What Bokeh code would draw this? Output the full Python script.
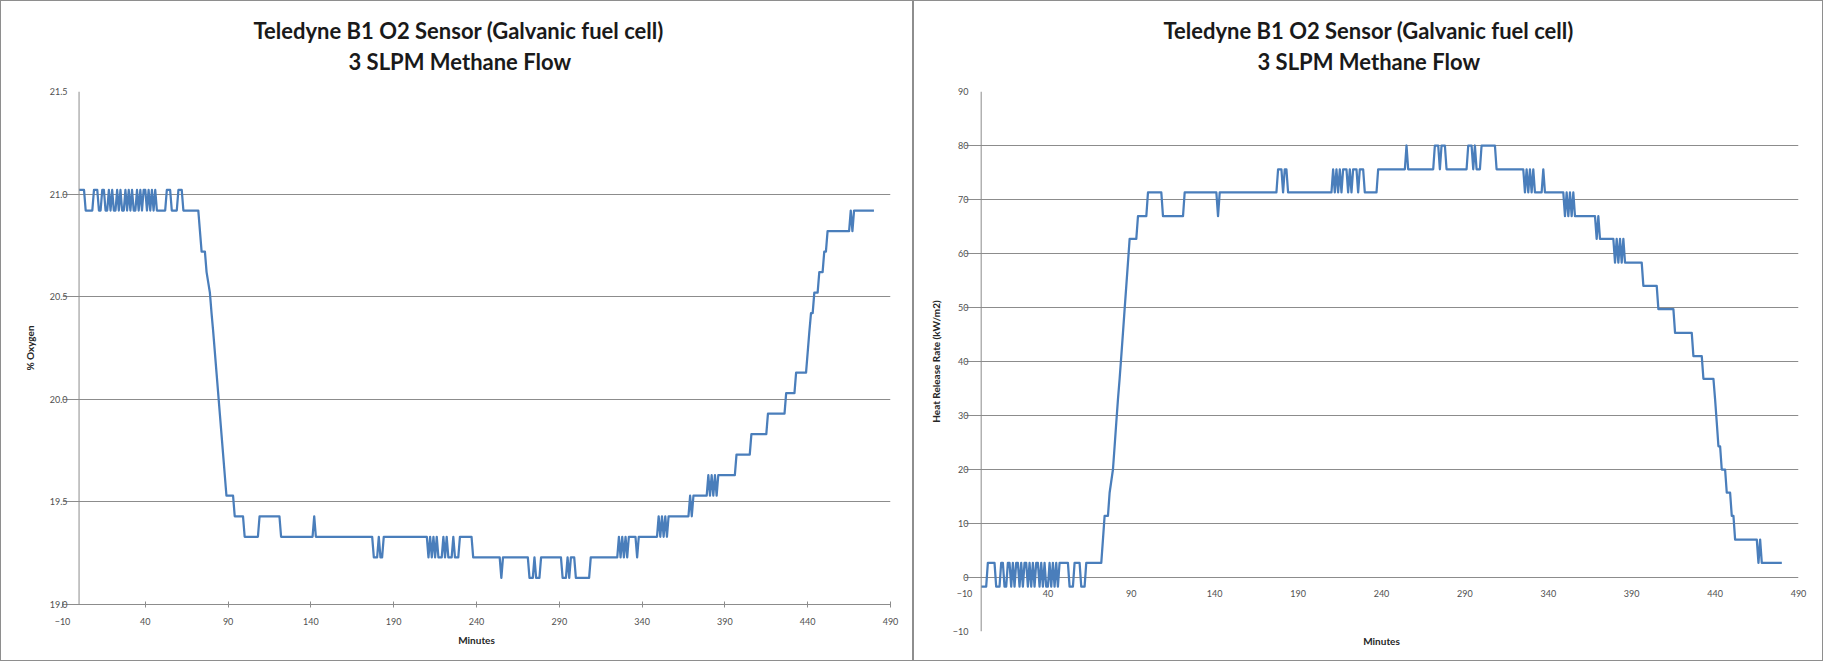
from bokeh.plotting import figure
from bokeh.layouts import row, column
from bokeh.models import Range1d, FixedTicker, Span, Title, LinearAxis, NumeralTickFormatter
from bokeh.embed import file_html
from bokeh.resources import INLINE

# ---------------- data ----------------
minutes = [
    0, 3, 4, 8, 9, 11, 12, 13, 14, 15, 16, 17,
    18, 19, 20, 21, 22, 23, 24, 25, 26, 27, 28, 29, 30, 31, 32, 33,
    34, 35, 36, 37, 38, 39, 40, 41, 42, 43, 44, 45, 46, 47, 48,
    52, 53, 55, 56, 59, 60, 62, 63, 72,
    73, 74, 76, 77, 79, 80, 81, 82, 83, 84, 85, 86, 87, 88, 89, 93, 94, 99, 100,
    108, 109, 121, 122, 141, 142, 143, 177, 178, 180, 181, 182, 183, 184,
    210, 211, 212, 213, 214, 215, 216, 217, 219, 220, 221, 222, 223, 225, 226, 227, 229, 230, 237, 238,
    254, 255, 256, 271, 272, 274, 275, 276, 278, 279, 291, 292, 294, 295, 296, 297, 299, 300, 308, 309,
    325, 326, 327, 328, 329, 330, 331, 332, 336, 337, 338, 349, 350, 351, 352, 353, 354, 355, 356,
    368, 369, 370, 371, 379, 380, 381, 382, 383, 384, 385, 386, 396,
    397, 405, 406, 415, 416, 426, 427, 432, 433, 439, 440, 441, 442, 443, 444, 446, 447, 449, 450, 451, 452, 465, 466, 467, 468, 480,
]

oxygen_pct = [
    21.02, 21.02, 20.92, 20.92, 21.02, 21.02, 20.92, 20.92, 21.02, 21.02, 20.92, 20.92,
    21.02, 20.92, 21.02, 20.92, 20.92, 21.02, 20.92, 21.02, 20.92, 20.92, 21.02, 20.92, 21.02, 20.92, 21.02, 20.92,
    20.92, 21.02, 20.92, 21.02, 20.92, 21.02, 21.02, 20.92, 21.02, 20.92, 21.02, 20.92, 21.02, 20.92, 20.92,
    20.92, 21.02, 21.02, 20.92, 20.92, 21.02, 21.02, 20.92, 20.92,
    20.82, 20.72, 20.72, 20.62, 20.52, 20.42, 20.33, 20.23, 20.13, 20.03, 19.93, 19.83, 19.73, 19.63, 19.53, 19.53, 19.43, 19.43, 19.33,
    19.33, 19.43, 19.43, 19.33, 19.33, 19.43, 19.33, 19.33, 19.23, 19.23, 19.33, 19.23, 19.23, 19.33,
    19.33, 19.23, 19.33, 19.23, 19.33, 19.23, 19.33, 19.23, 19.23, 19.33, 19.23, 19.33, 19.23, 19.23, 19.33, 19.23, 19.23, 19.33, 19.33, 19.23,
    19.23, 19.13, 19.23, 19.23, 19.13, 19.13, 19.23, 19.13, 19.13, 19.23, 19.23, 19.13, 19.13, 19.23, 19.13, 19.23, 19.23, 19.13, 19.13, 19.23,
    19.23, 19.33, 19.23, 19.33, 19.23, 19.33, 19.23, 19.33, 19.33, 19.23, 19.33, 19.33, 19.43, 19.33, 19.43, 19.33, 19.43, 19.33, 19.43,
    19.43, 19.53, 19.43, 19.53, 19.53, 19.63, 19.53, 19.63, 19.53, 19.63, 19.53, 19.63, 19.63,
    19.73, 19.73, 19.83, 19.83, 19.93, 19.93, 20.03, 20.03, 20.13, 20.13, 20.23, 20.33, 20.42, 20.42, 20.52, 20.52, 20.62, 20.62, 20.72, 20.72, 20.82, 20.82, 20.92, 20.82, 20.92, 20.92,
]

heat_release = [
    -1.7, -1.7, 2.7, 2.7, -1.7, -1.7, 2.7, 2.7, -1.7, -1.7, 2.7, 2.7,
    -1.7, 2.7, -1.7, 2.7, 2.7, -1.7, 2.7, -1.7, 2.7, 2.7, -1.7, 2.7, -1.7, 2.7, -1.7, 2.7,
    2.7, -1.7, 2.7, -1.7, 2.7, -1.7, -1.7, 2.7, -1.7, 2.7, -1.7, 2.7, -1.7, 2.7, 2.7,
    2.7, -1.7, -1.7, 2.7, 2.7, -1.7, -1.7, 2.7, 2.7,
    7.0, 11.4, 11.4, 15.7, 20.0, 24.3, 28.7, 33.0, 36.8, 41.0, 45.3, 49.7, 54.0, 58.3, 62.7, 62.7, 66.9, 66.9, 71.3,
    71.3, 66.9, 66.9, 71.3, 71.3, 66.9, 71.3, 71.3, 75.6, 75.6, 71.3, 75.6, 75.6, 71.3,
    71.3, 75.6, 71.3, 75.6, 71.3, 75.6, 71.3, 75.6, 75.6, 71.3, 75.6, 71.3, 75.6, 75.6, 71.3, 75.6, 75.6, 71.3, 71.3, 75.6,
    75.6, 80.0, 75.6, 75.6, 80.0, 80.0, 75.6, 80.0, 80.0, 75.6, 75.6, 80.0, 80.0, 75.6, 80.0, 75.6, 75.6, 80.0, 80.0, 75.6,
    75.6, 71.3, 75.6, 71.3, 75.6, 71.3, 75.6, 71.3, 71.3, 75.6, 71.3, 71.3, 66.9, 71.3, 66.9, 71.3, 66.9, 71.3, 66.9,
    66.9, 62.7, 66.9, 62.7, 62.7, 58.3, 62.7, 58.3, 62.7, 58.3, 62.7, 58.3, 58.3,
    54.0, 54.0, 49.7, 49.7, 45.3, 45.3, 41.0, 41.0, 36.8, 36.8, 33.0, 28.7, 24.3, 24.3, 20.0, 20.0, 15.7, 15.7, 11.4, 11.4, 7.0, 7.0, 2.7, 7.0, 2.7, 2.7,
]

minute_ticks = [-10, 40, 90, 140, 190, 240, 290, 340, 390, 440, 490]
oxygen_ticks = [19.0, 19.5, 20.0, 20.5, 21.0, 21.5]
hrr_ticks = [-10, 0, 10, 20, 30, 40, 50, 60, 70, 80, 90]

title_line1 = "Teledyne B1 O2 Sensor (Galvanic fuel cell)"
title_line2 = "3 SLPM Methane Flow"
x_label = "Minutes"
o2_label = "% Oxygen"
hrr_label = "Heat Release Rate (kW/m2)"

assert len(minutes) == len(oxygen_pct) == len(heat_release)

# ---------------- style ----------------
FONT = "Lato"
LINE = "#4a7ebb"
GRID = "#8c8c8c"
TICK_TEXT = "#505050"
TITLE_TEXT = "#1a1a1a"
BORDER = "1px solid #8e8e8e"


def style_axis(ax, tick_out=0, tick_in=0, label_standoff=8, axis_label_standoff=6):
    ax.axis_line_color = GRID
    ax.major_tick_line_color = GRID
    ax.minor_tick_line_color = None
    ax.major_tick_out = tick_out
    ax.major_tick_in = tick_in
    ax.major_label_text_font = FONT
    ax.major_label_text_font_size = "9px"
    ax.major_label_text_color = TICK_TEXT
    ax.major_label_standoff = label_standoff
    ax.axis_label_text_font = FONT
    ax.axis_label_text_font_size = "10px"
    ax.axis_label_text_font_style = "bold"
    ax.axis_label_text_color = "#262626"
    ax.axis_label_standoff = axis_label_standoff


def title(text, offset, standoff):
    return Title(text=text, align="left", offset=offset, standoff=standoff,
                 text_font=FONT, text_font_size="22px", text_font_style="bold",
                 text_color=TITLE_TEXT)


def base_figure(width, y_range, min_left, min_right, min_bottom, off1, off2):
    p = figure(width=width, height=661, x_range=Range1d(-10, 490), y_range=y_range,
               output_backend="svg", toolbar_location=None, title=None,
               min_border_left=min_left, min_border_right=min_right,
               min_border_top=90, min_border_bottom=min_bottom)
    p.outline_line_color = None
    p.background_fill_color = "white"
    p.border_fill_color = "white"
    p.xgrid.visible = False
    p.ygrid.grid_line_color = GRID
    # second title line is nearest the plot, first line stacked above it
    p.add_layout(title(title_line2, off2, 34), "above")
    p.add_layout(title(title_line1, off1, -30), "above")
    # vertical axis line crossing at minute 0
    p.add_layout(Span(location=0, dimension="height", line_color=GRID, line_width=1))
    p.styles = {"border": BORDER, "box-sizing": "border-box"}
    return p


# ---------------- left chart: % oxygen ----------------
p1 = base_figure(913, Range1d(19.0, 21.5), 61, 24, 58, 191, 286)
p1.ygrid.ticker = FixedTicker(ticks=oxygen_ticks)
xa1, ya1 = p1.xaxis[0], p1.yaxis[0]
xa1.ticker = FixedTicker(ticks=minute_ticks)
ya1.ticker = FixedTicker(ticks=oxygen_ticks)
ya1.formatter = NumeralTickFormatter(format="0.0")
style_axis(xa1, tick_out=3, tick_in=3, label_standoff=10, axis_label_standoff=6)
style_axis(ya1, tick_out=0, tick_in=0, label_standoff=-5, axis_label_standoff=11)
ya1.axis_line_color = None
xa1.axis_label = x_label
ya1.axis_label = o2_label
p1.line(minutes, oxygen_pct, line_color=LINE, line_width=2.25, line_join="round")

# ---------------- right chart: heat release rate ----------------
p2 = base_figure(910, Range1d(-10, 90), 50, 26, 31, 199, 293)
p2.ygrid.ticker = FixedTicker(ticks=hrr_ticks)
xa2, ya2 = p2.xaxis[0], p2.yaxis[0]
xa2.ticker = FixedTicker(ticks=minute_ticks)
ya2.ticker = FixedTicker(ticks=hrr_ticks)
style_axis(xa2, tick_out=0, tick_in=0, label_standoff=-42)
style_axis(ya2, tick_out=0, tick_in=0, label_standoff=-4, axis_label_standoff=8)
xa2.axis_line_color = None
ya2.axis_line_color = None
ya2.axis_label = hrr_label

minutes_axis = LinearAxis(ticker=FixedTicker(ticks=[]), axis_label=x_label)
style_axis(minutes_axis, tick_out=0, tick_in=0, label_standoff=0, axis_label_standoff=3)
minutes_axis.axis_line_color = None
minutes_axis.major_tick_line_color = None
minutes_axis.major_label_text_font_size = "0px"
p2.add_layout(minutes_axis, "below")

p2.line(minutes, heat_release, line_color=LINE, line_width=2.25, line_join="round")

# each chart in its own column so their frames are laid out independently
layout = row(column(p1), column(p2))
open("out.html", "w").write(file_html(layout, INLINE))
